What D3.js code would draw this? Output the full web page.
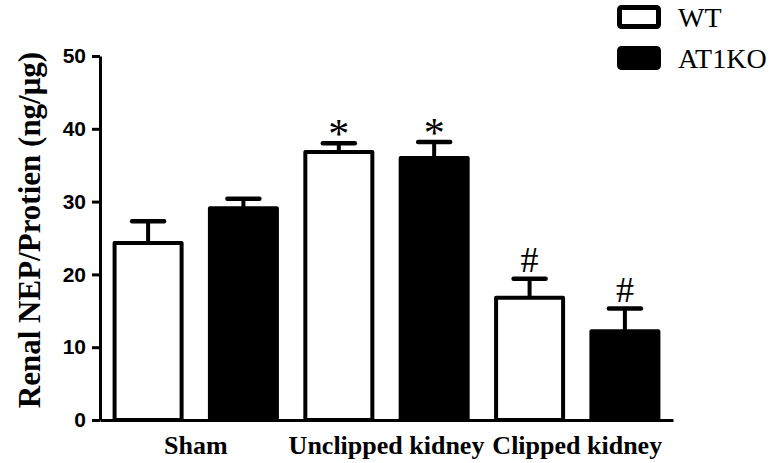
<!DOCTYPE html>
<html>
<head>
<meta charset="utf-8">
<script src="https://cdn.jsdelivr.net/npm/d3@7"></script>
<style>
  body { margin: 0; background: #fff; }
  svg { display: block; }
</style>
</head>
<body>
<svg id="chart"></svg>
<script>
// data
const groups = ["Sham", "Unclipped kidney", "Clipped kidney"];
const series = ["WT", "AT1KO"];
const wtMean = [24.3, 36.8, 16.8];
const wtSem = [3.0, 1.2, 2.6];
const koMean = [29.1, 36.0, 12.2];
const koSem = [1.3, 2.2, 3.1];
const marks = ["", "*", "#"];
const yTicks = [0, 10, 20, 30, 40, 50];

const W = 773, H = 463;
const svg = d3.select("#chart").attr("width", W).attr("height", H);

const data = [];
groups.forEach((g, i) => {
    data.push({ group: g, key: "WT", mean: wtMean[i], sem: wtSem[i], mark: marks[i] });
    data.push({ group: g, key: "AT1KO", mean: koMean[i], sem: koSem[i], mark: marks[i] });
});

// scales
const x0 = d3.scaleBand().domain(groups).range([100, 673]).paddingInner(0.128).paddingOuter(0.066);
const x1 = d3.scaleBand().domain(series).range([0, x0.bandwidth()]).paddingInner(0.255);
const y = d3.scaleLinear().domain([0, 50]).range([420, 56]);
const fill = d3.scaleOrdinal().domain(series).range(["#fff", "#000"]);

const bx = d => x0(d.group) + x1(d.key);
const cx = d => bx(d) + x1.bandwidth() / 2;

// error bars (upper only)
const err = svg.append("g");
err.selectAll(".stem").data(data).enter().append("line")
    .attr("x1", cx).attr("x2", cx)
    .attr("y1", d => y(d.mean)).attr("y2", d => y(d.mean + d.sem))
    .attr("stroke", "#000").attr("stroke-width", 4);
err.selectAll(".cap").data(data).enter().append("line")
    .attr("x1", d => cx(d) - 16).attr("x2", d => cx(d) + 16)
    .attr("y1", d => y(d.mean + d.sem)).attr("y2", d => y(d.mean + d.sem))
    .attr("stroke", "#000").attr("stroke-width", 4.5).attr("stroke-linecap", "round");

// bars
svg.append("g").selectAll("rect").data(data).enter().append("rect")
    .attr("x", d => bx(d) + 2)
    .attr("y", d => y(d.mean))
    .attr("width", x1.bandwidth() - 4)
    .attr("height", d => y(0) - y(d.mean))
    .attr("fill", d => fill(d.key))
    .attr("stroke", "#000")
    .attr("stroke-width", 4)
    .attr("stroke-linejoin", "round");

// significance marks
svg.append("g").selectAll("text").data(data.filter(d => d.mark)).enter().append("text")
    .attr("x", cx)
    .attr("y", d => d.mark === "*" ? y(d.mean + d.sem) + 5 : y(d.mean + d.sem) - 7)
    .attr("text-anchor", "middle")
    .attr("font-family", "'Liberation Serif', 'Times New Roman', serif")
    .attr("font-size", d => d.mark === "*" ? 42 : 36)
    .text(d => d.mark);

// y axis
const yAxis = svg.append("g")
    .attr("transform", "translate(100,0)")
    .call(d3.axisLeft(y).tickValues(yTicks).tickSize(8).tickSizeOuter(0).tickPadding(6));
yAxis.select(".domain").attr("stroke-width", 3);
yAxis.selectAll(".tick line").attr("stroke-width", 3);
yAxis.selectAll(".tick text")
    .attr("font-family", "'Liberation Sans', Arial, sans-serif")
    .attr("font-weight", "bold")
    .attr("font-size", 21)
    .attr("fill", "#000");

// x axis
const xAxis = svg.append("g")
    .attr("transform", "translate(0,420)")
    .call(d3.axisBottom(x0).tickSize(0).tickPadding(16));
xAxis.select(".domain").attr("stroke-width", 3);
xAxis.selectAll(".tick text")
    .attr("font-family", "'Liberation Serif', 'Times New Roman', serif")
    .attr("font-weight", "bold")
    .attr("font-size", 26)
    .attr("fill", "#000");

// y label
svg.append("text")
    .attr("transform", "translate(40,230) rotate(-90)")
    .attr("text-anchor", "middle")
    .attr("font-family", "'Liberation Serif', 'Times New Roman', serif")
    .attr("font-weight", "bold")
    .attr("font-size", 31)
    .text("Renal NEP/Protien (ng/μg)");

// legend
const legend = svg.append("g").selectAll("g").data(series).enter().append("g")
    .attr("transform", (d, i) => `translate(617,${5 + i * 41})`);
legend.append("rect")
    .attr("x", 2.5).attr("y", 2.5).attr("width", 39).attr("height", 19)
    .attr("rx", 2)
    .attr("fill", d => fill(d))
    .attr("stroke", "#000").attr("stroke-width", 5);
legend.append("text")
    .attr("x", 61).attr("y", 22)
    .attr("font-family", "'Liberation Serif', 'Times New Roman', serif")
    .attr("font-size", 28)
    .text(d => d);
</script>
</body>
</html>
